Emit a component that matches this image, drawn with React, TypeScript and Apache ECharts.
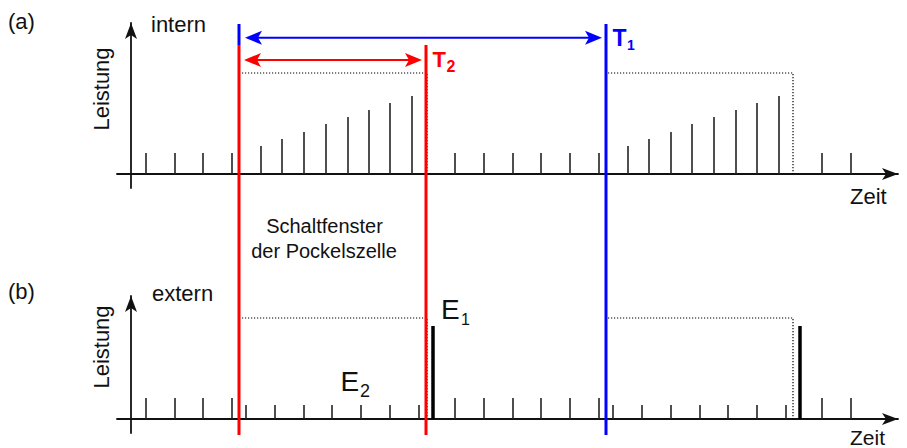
import React, { useEffect, useRef } from 'react';
import * as echarts from 'echarts';

const FONT = '"Liberation Sans", Arial, Helvetica, sans-serif';
const INK = '#111111';
const RED = '#ff0000';
const BLUE = '#0000ff';

// (a) intern: laser pulses inside the resonator (time, relative power)
const internTimes = [15, 44, 72, 101, 130, 151, 173, 195, 217, 238, 259, 281, 324, 353, 382, 410, 439, 468, 497, 518, 540, 561, 583, 605, 626, 648, 691, 720];
const internHeights = [21, 21, 21, 21, 28, 35, 42, 50, 57, 64, 71, 78, 21, 21, 21, 21, 21, 21, 28, 35, 42, 50, 57, 64, 71, 78, 21, 21];

// (b) extern: pulses leaving the resonator
const externTimes = [15, 44, 72, 101, 115, 144, 173, 201, 230, 259, 288, 324, 353, 382, 410, 439, 468, 482, 511, 540, 569, 597, 626, 655, 691, 720];
const externHeights = [21, 21, 21, 21, 14, 14, 14, 14, 14, 14, 14, 21, 21, 21, 21, 21, 21, 14, 14, 14, 14, 14, 14, 14, 21, 21];

// dumped pulses E1
const dumpTimes = [302, 669];
const dumpHeights = [93, 93];

// gate windows (dotted boxes): start, end, level
const gateStarts = [111, 477];
const gateEnds = [296, 662];
const gateLevel = 101;

// switching edges of the Pockels cell and the repetition period
const pockelsEdges = [108, 295];
const periodEdges = [108, 475];

const X_MIN = -14;
const X_MAX = 767;

function gateSeries(gridIdx: number) {
  return gateStarts.map((s, i) => ({
    type: 'line',
    xAxisIndex: gridIdx,
    yAxisIndex: gridIdx,
    data: [
      [s, gateLevel],
      [gateEnds[i], gateLevel],
      [gateEnds[i], 0],
    ],
    symbol: 'none',
    silent: true,
    lineStyle: { color: '#000000', width: 1.2, type: [1.2, 1.8] },
    z: 3,
  }));
}

const pulseRender = (params: any, api: any) => {
  const t = api.value(0);
  const h = api.value(1);
  const w = api.value(2);
  const top = api.coord([t, h]);
  const base = api.coord([t, 0]);
  return {
    type: 'line',
    shape: { x1: top[0], y1: top[1], x2: base[0], y2: base[1] },
    style: { stroke: w > 2 ? '#000000' : '#222222', lineWidth: w },
  };
};

function axisPair(gridIdx: number, yMax: number) {
  const line = {
    show: true,
    onZero: true,
    symbol: ['none', 'arrow'],
    symbolSize: [9, 16],
    lineStyle: { color: INK, width: 1.8 },
  };
  return {
    x: {
      type: 'value',
      gridIndex: gridIdx,
      min: X_MIN,
      max: X_MAX,
      axisLine: line,
      axisTick: { show: false },
      axisLabel: { show: false },
      splitLine: { show: false },
    },
    y: {
      type: 'value',
      gridIndex: gridIdx,
      min: -14,
      max: yMax,
      axisLine: line,
      axisTick: { show: false },
      axisLabel: { show: false },
      splitLine: { show: false },
    },
  };
}

function txt(text: string, x: number, y: number, size: number, opts: any = {}) {
  return {
    type: 'text',
    x,
    y,
    rotation: opts.rotation || 0,
    z: 100,
    silent: true,
    style: {
      text,
      fill: opts.fill || INK,
      fontSize: size,
      fontFamily: FONT,
      fontWeight: opts.bold ? 'bold' : 'normal',
      align: opts.align || 'left',
      textAlign: opts.align || 'left',
      verticalAlign: 'middle',
      textVerticalAlign: 'middle',
    },
  };
}

function vline(x: number, y1: number, y2: number, color: string, w: number) {
  return {
    type: 'line',
    z: 90,
    silent: true,
    shape: { x1: x, y1, x2: x, y2 },
    style: { stroke: color, lineWidth: w },
  };
}

function doubleArrow(xa: number, xb: number, y: number, color: string) {
  const L = 17;
  const H = 7;
  const N = 13;
  return [
    {
      type: 'line',
      z: 95,
      silent: true,
      shape: { x1: xa + N, y1: y, x2: xb - N, y2: y },
      style: { stroke: color, lineWidth: 2 },
    },
    {
      type: 'polygon',
      z: 95,
      silent: true,
      shape: { points: [[xa, y], [xa + L, y - H], [xa + N, y], [xa + L, y + H]] },
      style: { fill: color },
    },
    {
      type: 'polygon',
      z: 95,
      silent: true,
      shape: { points: [[xb, y], [xb - L, y - H], [xb - N, y], [xb - L, y + H]] },
      style: { fill: color },
    },
  ];
}

export default function App() {
  const ref = useRef<HTMLDivElement>(null);

  useEffect(() => {
    const chart = echarts.init(ref.current!, null, { renderer: 'svg' });
    const a = axisPair(0, 151);
    const b = axisPair(1, 123);

    const internData = internTimes.map((t, i) => [t, internHeights[i], 1.6]);
    const externData = externTimes
      .map((t, i) => [t, externHeights[i], 1.6])
      .concat(dumpTimes.map((t, i) => [t, dumpHeights[i], 3.5]));

    chart.setOption({
      animation: false,
      backgroundColor: '#ffffff',
      grid: [
        { left: 117, top: 23, width: 781, height: 165 },
        { left: 117, top: 296, width: 781, height: 137 },
      ],
      xAxis: [a.x, b.x],
      yAxis: [a.y, b.y],
      series: [
        {
          type: 'custom',
          xAxisIndex: 0,
          yAxisIndex: 0,
          data: internData,
          renderItem: pulseRender,
          silent: true,
          z: 4,
        },
        {
          type: 'custom',
          xAxisIndex: 1,
          yAxisIndex: 1,
          data: externData,
          renderItem: pulseRender,
          silent: true,
          z: 4,
        },
        ...gateSeries(0),
        ...gateSeries(1),
      ],
    });

    const px = (t: number) => chart.convertToPixel({ xAxisIndex: 0 }, t) as number;

    const graphics: any[] = [];
    // Pockels cell switching edges (red), repetition period (blue)
    pockelsEdges.forEach((t) => graphics.push(vline(px(t), 45, 435, RED, 3)));
    graphics.push(vline(px(periodEdges[0]), 24, 45, BLUE, 3));
    graphics.push(vline(px(periodEdges[1]), 24, 435, BLUE, 3));
    graphics.push(...doubleArrow(px(periodEdges[0]) + 6, px(periodEdges[1]) - 4, 37.7, BLUE));
    graphics.push(...doubleArrow(px(pockelsEdges[0]) + 5, px(pockelsEdges[1]) - 4, 60, RED));

    graphics.push(
      txt('(a)', 8, 21.7, 22),
      txt('intern', 151, 24, 22),
      txt('Leistung', 101.3, 89, 22, { rotation: Math.PI / 2, align: 'center' }),
      txt('Zeit', 850, 196.3, 22),
      txt('T', 612.5, 38.3, 23, { bold: true, fill: BLUE }),
      txt('1', 627, 45.1, 14, { bold: true, fill: BLUE }),
      txt('T', 432.5, 59, 22, { bold: true, fill: RED }),
      txt('2', 446.5, 66.1, 16, { bold: true, fill: RED }),
      txt('Schaltfenster', 324.5, 226.3, 20, { align: 'center' }),
      txt('der Pockelszelle', 324, 251.3, 20, { align: 'center' }),
      txt('(b)', 8, 291.7, 22),
      txt('extern', 152, 293, 22),
      txt('Leistung', 101.3, 347, 22, { rotation: Math.PI / 2, align: 'center' }),
      txt('Zeit', 850, 437.5, 21),
      txt('E', 441, 309.2, 28),
      txt('1', 461, 319.4, 16),
      txt('E', 340.5, 381.2, 28),
      txt('2', 360, 391, 18)
    );

    chart.setOption({ graphic: { elements: graphics } });

    return () => chart.dispose();
  }, []);

  return (
    <div
      ref={ref}
      style={{ position: 'fixed', left: 0, top: 0, width: 907, height: 448, background: '#ffffff' }}
    />
  );
}
